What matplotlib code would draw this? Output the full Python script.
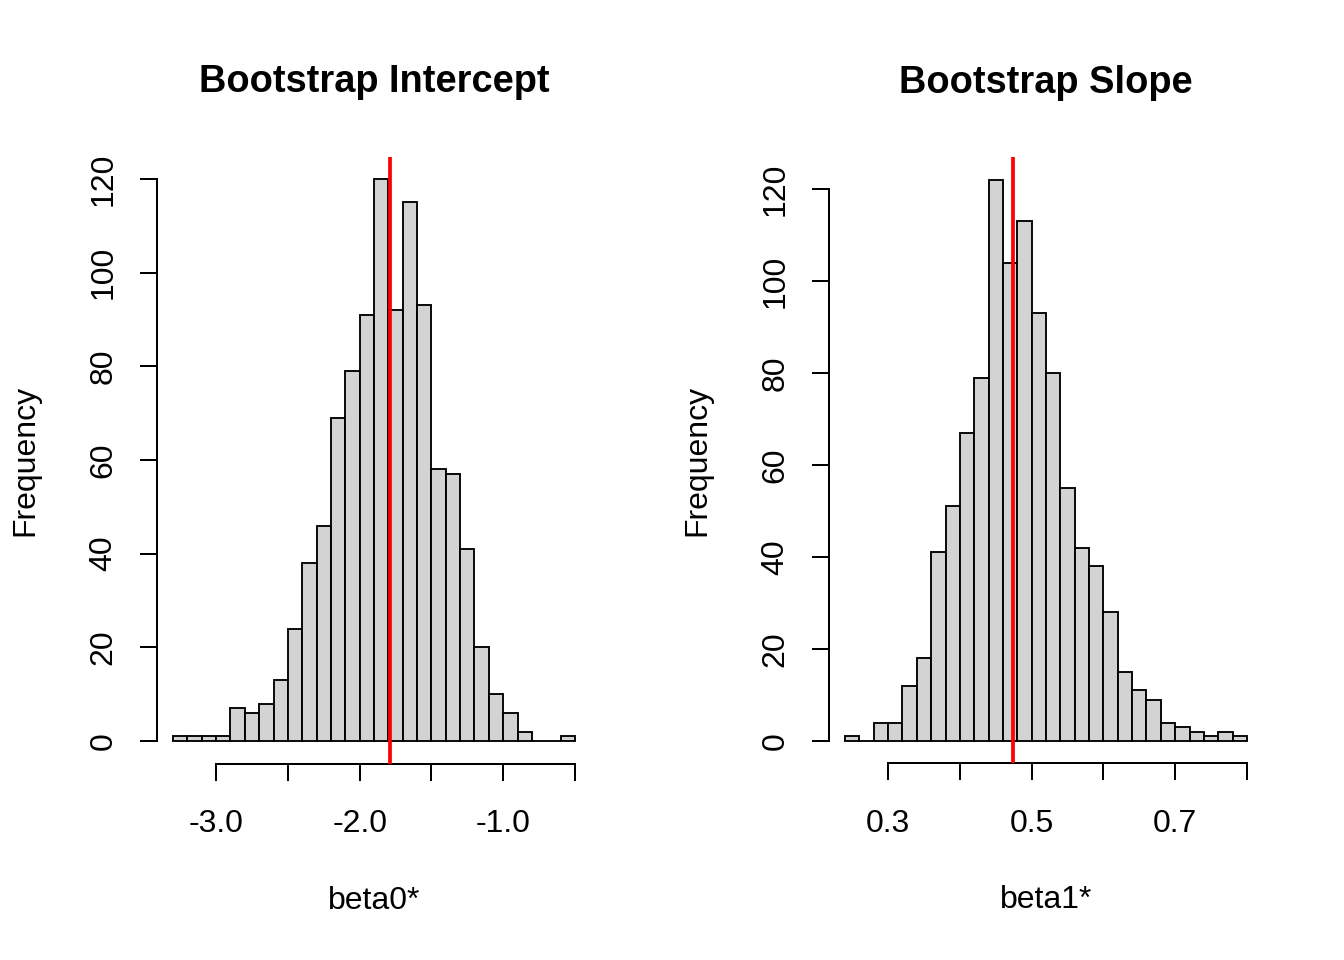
import numpy as np
import matplotlib
matplotlib.use("Agg")
import matplotlib.pyplot as plt

plt.rcParams['font.family'] = ['Liberation Sans', 'DejaVu Sans']

# bootstrap intercept histogram (bin width 0.1, from -3.3 to -0.5)
b0_edges = np.round(np.arange(-3.3, -0.5 + 0.001, 0.1), 2)
b0_counts = [1, 1, 1, 1, 7, 6, 8, 13, 24, 38, 46, 69, 79, 91,
             120, 92, 115, 93, 58, 57, 41, 20, 10, 6, 2, 0, 0, 1]
b0_hat = -1.787

# bootstrap slope histogram (bin width 0.02, from 0.24 to 0.80)
b1_edges = np.round(np.arange(0.24, 0.80 + 0.0001, 0.02), 3)
b1_counts = [1, 0, 4, 4, 12, 18, 41, 51, 67, 79, 122, 104, 113, 93,
             80, 55, 42, 38, 28, 15, 11, 9, 4, 3, 2, 1, 2, 1]
b1_hat = 0.474

b0_ticks = [-3.0, -2.5, -2.0, -1.5, -1.0, -0.5]
b0_ticklabels = ['-3.0', '', '-2.0', '', '-1.0', '']
b1_ticks = [0.3, 0.4, 0.5, 0.6, 0.7, 0.8]
b1_ticklabels = ['0.3', '', '0.5', '', '0.7', '']
y_ticks = [0, 20, 40, 60, 80, 100, 120]

W, H = 1344, 960
fig = plt.figure(figsize=(14, 10), dpi=96)


def panel(rect, edges, counts, hat, xticks, xticklabels, title, xlabel):
    ax = fig.add_axes(rect)
    edges = np.asarray(edges)
    ax.bar(edges[:-1], counts, width=np.diff(edges), align='edge',
           color='#D3D3D3', edgecolor='black', linewidth=1.4, zorder=2)
    ax.axvline(hat, color='red', linewidth=2.8, zorder=3)

    span = edges[-1] - edges[0]
    ax.set_xlim(edges[0] - 0.04 * span, edges[-1] + 0.04 * span)
    top = max(counts)
    ax.set_ylim(-0.04 * top, top * 1.04)

    for s in ['top', 'right']:
        ax.spines[s].set_visible(False)
    ax.spines['left'].set_bounds(0, 120)
    ax.spines['bottom'].set_bounds(xticks[0], xticks[-1])
    for s in ['left', 'bottom']:
        ax.spines[s].set_linewidth(1.5)

    ax.set_xticks(xticks)
    ax.set_xticklabels(xticklabels)
    ax.set_yticks(y_ticks)
    ax.set_yticklabels([str(v) for v in y_ticks], rotation=90, va='center')
    ax.tick_params(axis='x', length=13, width=1.5, pad=21, labelsize=24)
    ax.tick_params(axis='y', length=13, width=1.5, pad=16, labelsize=24)

    ax.text(0.5, 1.123, title, transform=ax.transAxes, ha='center',
            va='center', fontsize=28.5, fontweight='bold')
    ax.text(0.5, -0.226, xlabel, transform=ax.transAxes, ha='center',
            va='center', fontsize=24)
    ax.text(-0.304, 0.5, 'Frequency', transform=ax.transAxes, ha='center',
            va='center', fontsize=24, rotation=90)
    return ax


panel([157 / W, 1 - 763.5 / H, 434 / W, 607 / H], b0_edges, b0_counts,
      b0_hat, b0_ticks, b0_ticklabels, 'Bootstrap Intercept', 'beta0*')
panel([829 / W, 1 - 763.4 / H, 434 / W, 606 / H], b1_edges, b1_counts,
      b1_hat, b1_ticks, b1_ticklabels, 'Bootstrap Slope', 'beta1*')

fig.savefig('out.png', dpi=96)
